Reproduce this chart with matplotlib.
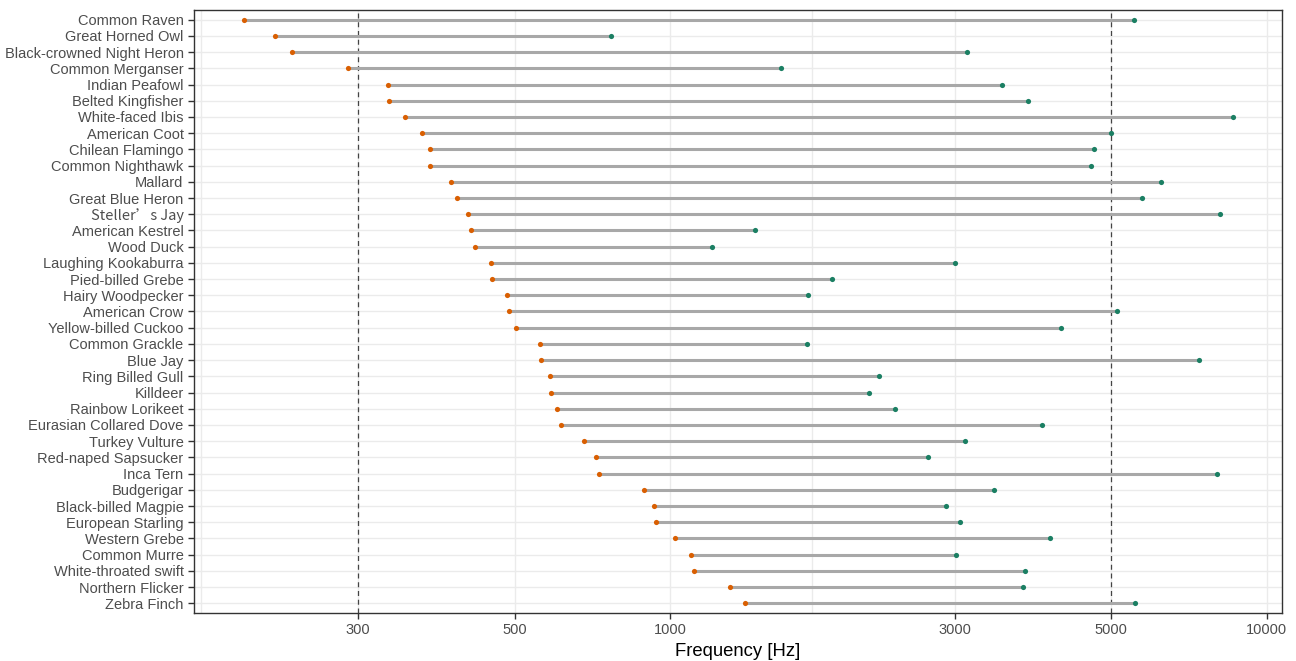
import numpy as np
import matplotlib
matplotlib.use("Agg")
import matplotlib.pyplot as plt

plt.rcParams['font.family'] = ['Liberation Sans', 'DejaVu Sans']

# bird species, top to bottom
species = [
    "Common Raven", "Great Horned Owl", "Black-crowned Night Heron",
    "Common Merganser", "Indian Peafowl", "Belted Kingfisher",
    "White-faced Ibis", "American Coot", "Chilean Flamingo",
    "Common Nighthawk", "Mallard", "Great Blue Heron", "Steller’s Jay",
    "American Kestrel", "Wood Duck", "Laughing Kookaburra",
    "Pied-billed Grebe", "Hairy Woodpecker", "American Crow",
    "Yellow-billed Cuckoo", "Common Grackle", "Blue Jay",
    "Ring Billed Gull", "Killdeer", "Rainbow Lorikeet",
    "Eurasian Collared Dove", "Turkey Vulture", "Red-naped Sapsucker",
    "Inca Tern", "Budgerigar", "Black-billed Magpie", "European Starling",
    "Western Grebe", "Common Murre", "White-throated swift",
    "Northern Flicker", "Zebra Finch",
]

# lowest / highest frequency of the call [Hz]
low_hz = [
    207, 229, 242, 291, 331, 332, 350, 370, 379, 380, 407, 415, 429,
    433, 439, 463, 465, 488, 491, 502, 561, 563, 585, 587, 604,
    615, 681, 719, 729, 889, 931, 938, 1021, 1087, 1098, 1259, 1337,
]
high_hz = [
    5530, 769, 3125, 1538, 3500, 3809, 8600, 5000, 4723, 4677, 6232, 5729,
    8107, 1391, 1178, 3007, 1870, 1703, 5122, 4248, 1697, 7379, 2242, 2153,
    2387, 3983, 3103, 2712, 8010, 3411, 2908, 3054, 4099, 3015, 3771, 3750,
    5553,
]

tick_hz = [300, 500, 1000, 3000, 5000, 10000]
minor_hz = [180, 1732]
ref_hz = [300, 5000]

# the axis spaces its labelled breaks unevenly, so use a piecewise log scale
anchor_log = np.log10(tick_hz)
anchor_pos = np.array([0, 156.9, 312.1, 596.8, 753.6, 909.1])
slope_lo = (anchor_pos[1] - anchor_pos[0]) / (anchor_log[1] - anchor_log[0])
slope_hi = (anchor_pos[-1] - anchor_pos[-2]) / (anchor_log[-1] - anchor_log[-2])


def forward(f):
    lf = np.log10(np.clip(np.asarray(f, dtype=float), 1e-6, None))
    p = np.interp(lf, anchor_log, anchor_pos)
    p = np.where(lf < anchor_log[0], anchor_pos[0] + (lf - anchor_log[0]) * slope_lo, p)
    p = np.where(lf > anchor_log[-1], anchor_pos[-1] + (lf - anchor_log[-1]) * slope_hi, p)
    return p


def inverse(p):
    p = np.asarray(p, dtype=float)
    lf = np.interp(p, anchor_pos, anchor_log)
    lf = np.where(p < anchor_pos[0], anchor_log[0] + (p - anchor_pos[0]) / slope_lo, lf)
    lf = np.where(p > anchor_pos[-1], anchor_log[-1] + (p - anchor_pos[-1]) / slope_hi, lf)
    return 10 ** lf


fig = plt.figure(figsize=(12.96, 6.61), dpi=100)
ax = fig.add_axes([0.1497, 0.0726, 0.8395, 0.9123])
ax.set_xscale('function', functions=(forward, inverse))

y = np.arange(len(species))

ax.hlines(y, low_hz, high_hz, color='#a8a8a8', lw=2.2, zorder=2)
ax.scatter(low_hz, y, color='#d95f02', s=14, zorder=3, linewidths=0)
ax.scatter(high_hz, y, color='#1b7f63', s=14, zorder=3, linewidths=0)

for r in ref_hz:
    ax.axvline(r, color='#444444', lw=0.9, ls=(0, (4, 3)), zorder=1.5)

ax.set_xlim(176, 10700)
ax.set_ylim(len(species) - 1 + 0.6, -0.6)

ax.set_xticks(tick_hz)
ax.set_xticklabels([str(t) for t in tick_hz])
ax.set_xticks(minor_hz, minor=True)
ax.set_yticks(y)
ax.set_yticklabels(species)
ax.yaxis.set_minor_locator(matplotlib.ticker.NullLocator())

ax.set_axisbelow(True)
ax.grid(which='both', axis='x', color='#ebebeb', lw=1)
ax.grid(which='major', axis='y', color='#ebebeb', lw=1)

ax.tick_params(axis='both', which='major', length=4, width=1, color='#333333',
               labelcolor='#4d4d4d', labelsize=10.5)
ax.tick_params(axis='x', which='minor', length=0)
for s in ax.spines.values():
    s.set_color('#333333')
    s.set_linewidth(1)

# the apostrophe in this name is drawn full width in the original
ax.get_yticklabels()[species.index("Steller’s Jay")].set_fontfamily(['Noto Sans CJK SC', 'DejaVu Sans'])

ax.set_xlabel('Frequency [Hz]', fontsize=13.3, color='black', labelpad=4)

plt.savefig('out.png', dpi=100)
